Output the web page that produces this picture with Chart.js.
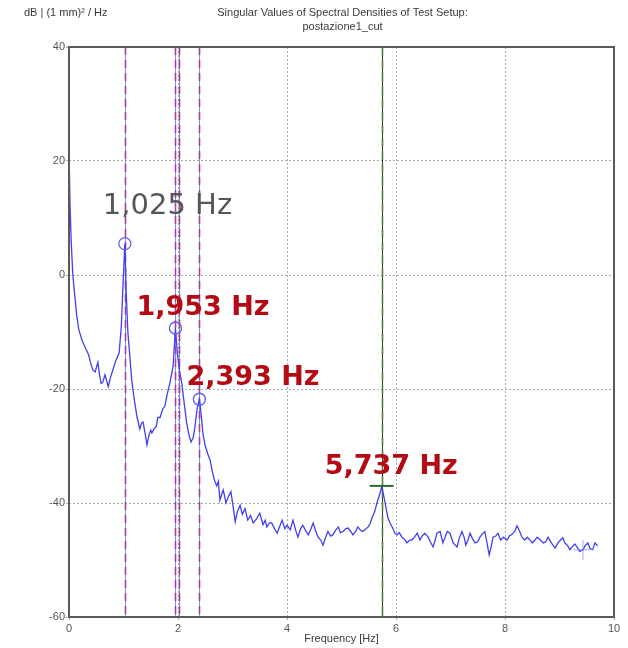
<!DOCTYPE html>
<html>
<head>
<meta charset="utf-8">
<script src="https://cdn.jsdelivr.net/npm/chart.js@4/dist/chart.umd.min.js"></script>
<style>
  html, body { margin: 0; padding: 0; background: #fff; }
  #wrap { width: 628px; height: 648px; }
</style>
</head>
<body>
<div id="wrap"><canvas id="chart" width="628" height="648"></canvas></div>
<script>
(function () {
  'use strict';

  // spectrum (Hz / dB)
  var freq = [0.00, 0.02, 0.04, 0.07, 0.10, 0.14, 0.18, 0.24, 0.31, 0.36, 0.40, 0.44, 0.48, 0.53, 0.56, 0.59, 0.62, 0.66, 0.69, 0.72,
    0.76, 0.81, 0.86, 0.92, 0.96, 0.99, 1.025, 1.05, 1.08, 1.11, 1.15, 1.20, 1.25, 1.30, 1.33, 1.36, 1.40, 1.43, 1.47, 1.50,
    1.52, 1.56, 1.60, 1.63, 1.67, 1.72, 1.76, 1.80, 1.85, 1.91, 1.953, 1.99, 2.03, 2.07, 2.12, 2.16, 2.20, 2.24, 2.28, 2.31,
    2.35, 2.393, 2.42, 2.46, 2.50, 2.55, 2.59, 2.63, 2.67, 2.71, 2.74, 2.77, 2.80, 2.83, 2.86, 2.88, 2.92, 2.97, 3.01, 3.05,
    3.09, 3.14, 3.18, 3.23, 3.28, 3.33, 3.38, 3.44, 3.50, 3.56, 3.60, 3.63, 3.68, 3.72, 3.77, 3.82, 3.87, 3.91, 3.96, 4.00,
    4.06, 4.11, 4.16, 4.20, 4.25, 4.29, 4.34, 4.39, 4.44, 4.48, 4.53, 4.57, 4.62, 4.66, 4.71, 4.75, 4.80, 4.84, 4.89, 4.94,
    4.98, 5.03, 5.08, 5.12, 5.17, 5.21, 5.26, 5.30, 5.35, 5.39, 5.44, 5.49, 5.53, 5.56, 5.61, 5.65, 5.70, 5.737, 5.77, 5.80,
    5.85, 5.89, 5.93, 5.98, 6.02, 6.06, 6.11, 6.15, 6.20, 6.25, 6.29, 6.34, 6.39, 6.44, 6.48, 6.53, 6.59, 6.63, 6.68, 6.72,
    6.75, 6.81, 6.86, 6.90, 6.94, 6.99, 7.05, 7.12, 7.16, 7.21, 7.25, 7.28, 7.32, 7.36, 7.40, 7.45, 7.50, 7.54, 7.58, 7.63,
    7.67, 7.71, 7.75, 7.78, 7.83, 7.87, 7.92, 7.97, 8.04, 8.08, 8.13, 8.18, 8.22, 8.27, 8.31, 8.36, 8.41, 8.46, 8.50, 8.55,
    8.59, 8.65, 8.70, 8.75, 8.79, 8.85, 8.92, 8.97, 9.02, 9.06, 9.10, 9.15, 9.19, 9.24, 9.28, 9.32, 9.37, 9.43, 9.47, 9.52,
    9.56, 9.61, 9.65, 9.70];
  var db = [22, 12, 6, 0, -3, -7, -9.6, -11.5, -13, -14, -15.5, -16.7, -17, -15.3, -17.5, -19, -18.8, -17.5, -18.5, -19.6,
    -18, -16.5, -15, -13.7, -9, -2, 5.5, -3, -10, -13.5, -18.4, -22, -25, -27, -26, -25.8, -28, -29.8, -28, -27.2,
    -27.7, -27, -26.6, -25, -25, -23.5, -23, -21, -19, -16, -9.3, -14, -17, -19, -23, -26, -28, -29.3, -28.5, -26.7,
    -23.5, -21.8, -24, -28, -30, -31.5, -32.5, -34.5, -36, -37, -36.2, -39.5, -38.5, -37.7, -39, -40, -39, -38, -40.5, -43.3,
    -41.5, -40.4, -42, -41, -43, -42.2, -43.5, -42.8, -41.8, -43.8, -43, -44.2, -43.5, -43.5, -44.5, -45.3, -44, -43, -44.5, -43.9,
    -44.7, -43, -44.8, -46, -44.5, -43.9, -44.8, -45.6, -44.5, -43.5, -45, -46, -46.5, -47.4, -46, -45, -45.8, -45.6, -44.8, -44.2,
    -45.2, -45, -44.5, -44.4, -45, -45.6, -45, -44.2, -44.8, -45, -44.6, -44.2, -43.5, -42.6, -41.5, -40, -38.5, -37.2, -38.5, -40,
    -42.5, -43.5, -44.2, -45.3, -45.6, -45.2, -46, -46.3, -47, -46.5, -46.5, -46, -45.3, -46.5, -45.8, -45.3, -46, -46.8, -47.7, -46.5,
    -45.3, -45, -47, -46, -45, -45.3, -47, -47.7, -46.2, -45, -46, -47.4, -46.5, -45.3, -46.2, -47, -46.8, -46, -45.5, -45,
    -47, -49.1, -47.5, -46, -45.8, -45.3, -46.5, -46, -46.5, -45.8, -45.5, -45, -44, -45, -46, -46.5, -46, -46.5, -47, -46.5,
    -46, -46.5, -47, -46.8, -46, -47, -47.9, -47, -46.5, -46.1, -47, -47.5, -48.2, -47.6, -47.2, -47.7, -48.5, -48.2, -47.5, -47,
    -48, -48.2, -47, -47.5];

  // picked peaks
  var peakFreq = [1.025, 1.953, 2.393, 5.737];
  var peakDb = [5.5, -9.3, -21.8, -37.0];
  var peakLabels = ['1,025 Hz', '1,953 Hz', '2,393 Hz', '5,737 Hz'];

  // vertical mode lines
  var modeLines = [1.025, 1.953, 2.02, 2.393];
  var greenLines = [5.737];

  // cursor
  var cursorFreq = [9.43];
  var cursorDb = [-48.2];

  var xTicks = [0, 2, 4, 6, 8, 10];
  var yTicks = [-60, -40, -20, 0, 20, 40];

  var FONT = '"Liberation Sans", Arial, sans-serif';

  // 라벨 스타일 (피크 기준 픽셀 오프셋)
  var labelStyle = [
    { dx: -22, dy: -37, color: '#565656', bold: false },
    { dx: -39, dy: -20, color: '#b30a14', bold: true },
    { dx: -13, dy: -21, color: '#b30a14', bold: true },
    { dx: -57, dy: -19, color: '#b30a14', bold: true }
  ];

  var curve = freq.map(function (f, i) { return { x: f, y: db[i] }; });
  var peaks = peakFreq.map(function (f, i) { return { x: f, y: peakDb[i] }; });
  var cursor = cursorFreq.map(function (f, i) { return { x: f, y: cursorDb[i] }; });

  var overlay = {
    id: 'overlay',
    beforeDatasetsDraw: function (chart) {
      var c = chart.ctx, a = chart.chartArea, sx = chart.scales.x;
      c.save();
      modeLines.forEach(function (f) {
        var px = Math.round(sx.getPixelForValue(f)) + 0.5;
        c.setLineDash([]);
        c.strokeStyle = 'rgba(110,110,255,0.85)';
        c.lineWidth = 1;
        c.beginPath(); c.moveTo(px, a.top); c.lineTo(px, a.bottom); c.stroke();
        c.setLineDash([8, 5]);
        c.strokeStyle = '#a0449c';
        c.lineWidth = 1.6;
        c.beginPath(); c.moveTo(px, a.top); c.lineTo(px, a.bottom); c.stroke();
      });
      greenLines.forEach(function (f) {
        var px = Math.round(sx.getPixelForValue(f)) + 0.5;
        c.setLineDash([]);
        c.strokeStyle = '#333';
        c.lineWidth = 1;
        c.beginPath(); c.moveTo(px, a.top); c.lineTo(px, a.bottom); c.stroke();
        c.setLineDash([9, 4]);
        c.strokeStyle = '#4f7f3a';
        c.lineWidth = 1.6;
        c.beginPath(); c.moveTo(px, a.top); c.lineTo(px, a.bottom); c.stroke();
      });
      c.restore();
    },
    afterDraw: function (chart) {
      var c = chart.ctx, a = chart.chartArea, sx = chart.scales.x, sy = chart.scales.y;
      c.save();
      // frame
      c.setLineDash([]);
      c.strokeStyle = '#5a5a5a';
      c.lineWidth = 2;
      c.strokeRect(a.left, a.top, a.right - a.left, a.bottom - a.top);

      // titles
      c.fillStyle = '#3a3a3a';
      c.font = '11px ' + FONT;
      c.textBaseline = 'middle';
      c.textAlign = 'left';
      c.fillText('dB | (1 mm)\u00B2 / Hz', 24, 13);
      c.textAlign = 'center';
      var mid = (a.left + a.right) / 2 + 1;
      c.fillText('Singular Values of Spectral Densities of Test Setup:', mid, 13);
      c.fillText('postazione1_cut', mid, 27);

      // peak labels
      c.textAlign = 'left';
      peakLabels.forEach(function (t, i) {
        var s = labelStyle[i];
        var px = sx.getPixelForValue(peakFreq[i]);
        var py = sy.getPixelForValue(peakDb[i]);
        c.fillStyle = s.color;
        c.font = (s.bold ? 'bold 27px ' : '29px ') + '"DejaVu Sans", sans-serif';
        c.fillText(t, px + s.dx, py + s.dy);
      });
      c.restore();
    }
  };

  new Chart(document.getElementById('chart').getContext('2d'), {
    type: 'line',
    data: {
      datasets: [{
        data: curve,
        borderColor: '#4040f0',
        borderWidth: 1.3,
        pointRadius: 0,
        tension: 0,
        order: 2
      }, {
        type: 'scatter',
        data: peaks,
        showLine: false,
        pointStyle: ['circle', 'circle', 'circle', 'line'],
        pointRadius: [6, 6, 6, 12],
        pointBorderWidth: [1.3, 1.3, 1.3, 2],
        pointBackgroundColor: 'rgba(0,0,0,0)',
        pointBorderColor: ['#5c5cf0', '#5c5cf0', '#5c5cf0', '#2f6a2a'],
        order: 1
      }, {
        type: 'scatter',
        data: cursor,
        showLine: false,
        pointStyle: 'cross',
        pointRadius: 10,
        pointBorderWidth: 1,
        pointBorderColor: 'rgba(120,140,230,0.7)',
        order: 1
      }]
    },
    options: {
      responsive: false,
      animation: false,
      layout: { padding: { top: 47, right: 14, left: 0, bottom: 0 } },
      plugins: { legend: { display: false }, tooltip: { enabled: false } },
      scales: {
        x: {
          type: 'linear',
          min: 0,
          max: 10,
          afterBuildTicks: function (s) { s.ticks = xTicks.map(function (v) { return { value: v }; }); },
          afterFit: function (s) { s.height = 31; },
          ticks: { color: '#555', font: { family: FONT, size: 11 }, padding: 2, maxRotation: 0 },
          grid: { color: '#a8a8a8', lineWidth: 1, tickLength: 3 },
          border: { display: false, dash: [2, 2] },
          title: { display: true, text: 'Frequency [Hz]', color: '#3a3a3a', font: { family: FONT, size: 11 }, padding: { top: 0, bottom: 2 } }
        },
        y: {
          min: -60,
          max: 40,
          afterBuildTicks: function (s) { s.ticks = yTicks.map(function (v) { return { value: v }; }); },
          afterFit: function (s) { s.width = 69; },
          ticks: { color: '#555', font: { family: FONT, size: 11 }, padding: 1 },
          grid: { color: '#a8a8a8', lineWidth: 1, tickLength: 3 },
          border: { display: false, dash: [2, 2] }
        }
      }
    },
    plugins: [overlay]
  });
})();
</script>
</body>
</html>
